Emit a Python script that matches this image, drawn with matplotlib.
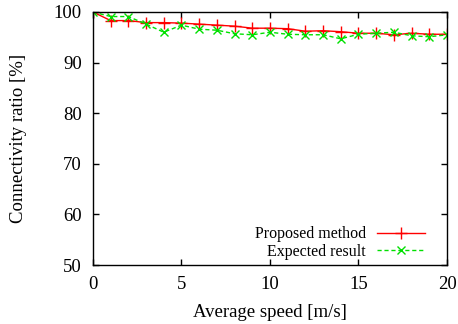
import matplotlib.pyplot as plt

speed = list(range(21))
proposed = [100, 98.3, 98.3, 97.9, 97.9, 97.8, 97.6, 97.4, 97.2, 96.8, 96.8,
            96.7, 96.2, 96.3, 96.1, 95.8, 95.8, 95.5, 95.8, 95.6, 95.6]
expected = [100, 99.1, 99.1, 97.6, 96.0, 97.4, 96.6, 96.4, 95.7, 95.5, 96.0,
            95.6, 95.5, 95.5, 94.7, 95.6, 95.8, 96.0, 95.3, 95.1, 95.5]

plt.rcParams['font.family'] = ['Liberation Serif', 'DejaVu Serif']
plt.rcParams['font.size'] = 13.5

fig = plt.figure(figsize=(4.58, 3.24), dpi=100)
ax = fig.add_axes([0.203, 0.182, 0.773, 0.781])

ax.plot(speed, proposed, color='#ff0000', linewidth=1, marker='+',
        markersize=8, markeredgewidth=1, label='Proposed method')
ax.plot(speed, expected, color='#00e000', linewidth=1, linestyle=(0, (3, 2)),
        marker='x', markersize=6, markeredgewidth=1, label='Expected result')

ax.set_xlim(0, 20)
ax.set_ylim(50, 100)
ax.set_xticks([0, 5, 10, 15, 20])
ax.set_yticks([50, 60, 70, 80, 90, 100])
ax.tick_params(direction='in', top=True, right=True, length=4, width=1)
ax.tick_params(axis='x', pad=8)
ax.tick_params(axis='y', pad=8)
for s in ax.spines.values():
    s.set_linewidth(1)

ax.set_xlabel('Average speed [m/s]')
ax.set_ylabel('Connectivity ratio [%]')
ax.xaxis.set_label_coords(0.5, -0.155)
ax.yaxis.set_label_coords(-0.187, 0.5)

ax.legend(loc='lower right', frameon=False, markerfirst=False, fontsize=11.5,
          handlelength=3.0, handletextpad=0.7, borderpad=0, borderaxespad=0,
          labelspacing=0.1, bbox_to_anchor=(0.938, 0.02))

fig.savefig('out.png', dpi=100)
